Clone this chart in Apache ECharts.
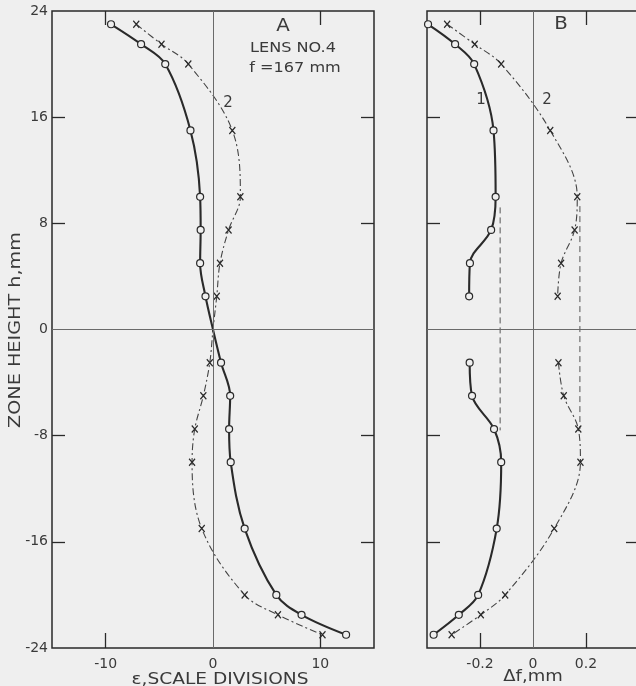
<!DOCTYPE html>
<html>
<head>
<meta charset="utf-8">
<script src="https://cdn.jsdelivr.net/npm/echarts@6/dist/echarts.min.js"></script>
<style>
html,body{margin:0;padding:0;background:#efefef;}
#c{width:636px;height:686px;}
</style>
</head>
<body>
<div id="c"></div>
<script>
// Zone heights (mm)
const zoneA = [23, 21.5, 20, 15, 10, 7.5, 5, 2.5, 0, -2.5, -5, -7.5, -10, -15, -20, -21.5, -23];
// Panel A: epsilon, scale divisions
const epsCurve1 = [-9.5, -6.7, -4.45, -2.1, -1.2, -1.15, -1.2, -0.7, 0, 0.75, 1.6, 1.5, 1.65, 2.95, 5.9, 8.25, 12.4];
const epsCurve2 = [-7.15, -4.8, -2.3, 1.8, 2.55, 1.45, 0.65, 0.35, 0, -0.3, -0.9, -1.7, -1.95, -1.05, 2.95, 6.05, 10.2];

// Panel B: delta f, mm
const zoneUpper = [23, 21.5, 20, 15, 10, 7.5, 5, 2.5];
const zoneLower = [-2.5, -5, -7.5, -10, -15, -20, -21.5, -23];
const dfCurve1Upper = [-0.396, -0.294, -0.222, -0.149, -0.141, -0.158, -0.238, -0.241];
const dfCurve1Lower = [-0.239, -0.230, -0.147, -0.120, -0.137, -0.207, -0.280, -0.375];
const dfCurve2Upper = [-0.324, -0.220, -0.120, 0.065, 0.167, 0.157, 0.106, 0.093];
const dfCurve2Lower = [0.096, 0.116, 0.171, 0.179, 0.080, -0.105, -0.197, -0.307];

// Dashed reference verticals in panel B: [x, hTop, hBottom]
const dashRef1 = [-0.124, 9.2, -7.6];
const dashRef2 = [0.177, 9.3, -7.5];

// Tick values
const hTicks = [-24, -16, -8, 0, 8, 16, 24];
const hInnerTicks = [-16, -8, 8, 16];
const epsTicks = [-10, 0, 10];
const epsInnerTicks = [-10, 10];
const dfTicks = [-0.2, 0, 0.2];
const dfInnerTicks = [-0.2, 0.2];

const BG = '#efefef';
const INK = '#2a2a2a';
const TXT = '#3a3a3a';
const FONT = 'DejaVu Sans';

function pts(xs, hs) {
  return xs.map((x, i) => hs[i] === 0 && x === 0 ? { value: [x, hs[i]], symbol: 'none' } : [x, hs[i]]);
}

const circleSym = {
  symbol: 'circle', symbolSize: 7,
  itemStyle: { color: BG, borderColor: INK, borderWidth: 1.2 }
};
const crossSym = {
  symbol: 'path://M0,0L10,10M10,0L0,10', symbolSize: [6, 7],
  itemStyle: { color: 'none', borderColor: INK, borderWidth: 1.3 }
};
const solidLine = { color: INK, width: 2.1 };
const dashDotLine = { color: '#444', width: 1.1, type: [7, 3, 2, 3] };

const zeroMark = {
  silent: true, symbol: 'none', animation: false,
  label: { show: false },
  lineStyle: { color: '#6a6a6a', width: 1, type: 'solid' },
  data: [{ xAxis: 0 }, { yAxis: 0 }]
};

function bottomX(gi, min, max, labels, ticks) {
  return {
    type: 'value', gridIndex: gi, position: 'bottom', min: min, max: max,
    splitLine: { show: false }, axisLine: { show: false, onZero: false },
    axisTick: { show: true, inside: true, length: 15, customValues: ticks, lineStyle: { color: INK, width: 1.3 } },
    axisLabel: { customValues: labels, color: TXT, fontSize: 14, fontFamily: FONT, margin: 9,
      formatter: v => (Math.abs(v) < 1e-9 ? '0' : String(v)) }
  };
}
function topX(gi, min, max, ticks) {
  return {
    type: 'value', gridIndex: gi, position: 'top', min: min, max: max,
    splitLine: { show: false }, axisLine: { show: false, onZero: false },
    axisTick: { show: true, inside: true, length: 14, customValues: ticks, lineStyle: { color: INK, width: 1.3 } },
    axisLabel: { show: false }
  };
}
function sideY(gi, pos, showLabels) {
  return {
    type: 'value', gridIndex: gi, position: pos, min: -24, max: 24,
    splitLine: { show: false }, axisLine: { show: false, onZero: false },
    axisTick: { show: true, inside: true, length: 13, customValues: hInnerTicks, lineStyle: { color: INK, width: 1.3 } },
    axisLabel: { show: showLabels, customValues: hTicks, color: TXT, fontSize: 14, fontFamily: FONT, margin: 4 }
  };
}

function label(text, x, y, size, sx, rot) {
  return { type: 'text', x: x, y: y, rotation: rot || 0, scaleX: sx || 1, silent: true,
    style: { text: text, fontSize: size, fontFamily: FONT, fill: TXT, align: 'center', verticalAlign: 'middle' } };
}

const chart = echarts.init(document.getElementById('c'), null, { renderer: 'canvas' });
chart.setOption({
  backgroundColor: BG,
  animation: false,
  grid: [
    { left: 52, right: 262, top: 11, bottom: 38, outerBoundsMode: 'none', containLabel: false,
      show: true, borderColor: INK, borderWidth: 1.5, backgroundColor: 'transparent' },
    { left: 427, right: -3, top: 11, bottom: 38, outerBoundsMode: 'none', containLabel: false,
      show: true, borderColor: INK, borderWidth: 1.5, backgroundColor: 'transparent' }
  ],
  xAxis: [
    bottomX(0, -15, 15, epsTicks, epsInnerTicks),
    topX(0, -15, 15, epsInnerTicks),
    bottomX(1, -0.4, 0.4, dfTicks, dfInnerTicks),
    topX(1, -0.4, 0.4, dfInnerTicks)
  ],
  yAxis: [
    sideY(0, 'left', true),
    sideY(0, 'right', false),
    sideY(1, 'left', false),
    sideY(1, 'right', false)
  ],
  series: [
    Object.assign({ type: 'line', xAxisIndex: 0, yAxisIndex: 0, data: pts(epsCurve1, zoneA), smooth: 0.35,
      lineStyle: solidLine, markLine: zeroMark, z: 3 }, circleSym),
    Object.assign({ type: 'line', xAxisIndex: 0, yAxisIndex: 0, data: pts(epsCurve2, zoneA), smooth: 0.35,
      lineStyle: dashDotLine, z: 2 }, crossSym),
    Object.assign({ type: 'line', xAxisIndex: 2, yAxisIndex: 2, data: pts(dfCurve1Upper, zoneUpper), smooth: 0.35,
      lineStyle: solidLine, markLine: zeroMark, z: 3 }, circleSym),
    Object.assign({ type: 'line', xAxisIndex: 2, yAxisIndex: 2, data: pts(dfCurve1Lower, zoneLower), smooth: 0.35,
      lineStyle: solidLine, z: 3 }, circleSym),
    Object.assign({ type: 'line', xAxisIndex: 2, yAxisIndex: 2, data: pts(dfCurve2Upper, zoneUpper), smooth: 0.35,
      lineStyle: dashDotLine, z: 2 }, crossSym),
    Object.assign({ type: 'line', xAxisIndex: 2, yAxisIndex: 2, data: pts(dfCurve2Lower, zoneLower), smooth: 0.35,
      lineStyle: dashDotLine, z: 2 }, crossSym),
    { type: 'line', xAxisIndex: 2, yAxisIndex: 2, symbol: 'none', z: 1,
      data: [[dashRef1[0], dashRef1[1]], [dashRef1[0], dashRef1[2]]],
      lineStyle: { color: '#555', width: 1, type: [6, 4] } },
    { type: 'line', xAxisIndex: 2, yAxisIndex: 2, symbol: 'none', z: 1,
      data: [[dashRef2[0], dashRef2[1]], [dashRef2[0], dashRef2[2]]],
      lineStyle: { color: '#555', width: 1, type: [6, 4] } }
  ],
  graphic: [
    label('A', 283, 26, 18, 1.1),
    label('LENS NO.4', 293, 48, 14, 1.15),
    label('f =167 mm', 295, 68, 14, 1.15),
    label('2', 228, 103, 15),
    label('B', 561, 24, 18, 1.1),
    label('1', 481, 100, 15),
    label('2', 547, 100, 15),
    label('ε,SCALE DIVISIONS', 220, 680, 15, 1.24),
    label('Δf,mm', 533, 677, 15, 1.2),
    label('ZONE HEIGHT h,mm', 16, 330, 15, 1.28, Math.PI / 2)
  ]
});
</script>
</body>
</html>
